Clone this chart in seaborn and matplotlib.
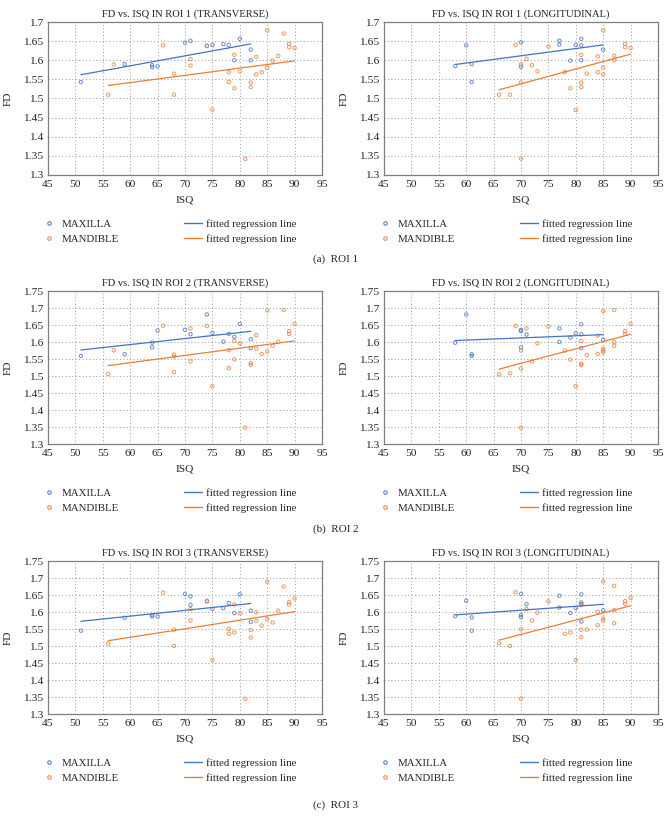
import matplotlib
matplotlib.use("Agg")
import matplotlib.pyplot as plt
import seaborn as sns
import numpy as np
import pandas as pd
from matplotlib.lines import Line2D

sns.set_style("white")
plt.rcParams['font.family'] = ['Liberation Serif', 'DejaVu Serif']

BLUE = "#4472C4"
ORANGE = "#ED7D31"

# ---------------- DATA ----------------
# ROI 1 transverse
r1t_max_isq = [51, 59, 64, 64, 65, 70, 71, 74, 75, 77, 78, 79, 80, 82, 82]
r1t_max_fd = [1.543, 1.590, 1.587, 1.582, 1.584, 1.646, 1.651, 1.638, 1.640, 1.642, 1.640, 1.600, 1.656, 1.628, 1.600]
r1t_man_isq = [56, 57, 66, 68, 68, 71, 71, 74, 75, 78, 78, 79, 79, 80, 81, 82, 82, 83, 83, 84, 85, 85, 86, 87, 88, 89, 89, 90]
r1t_man_fd = [1.510, 1.589, 1.639, 1.565, 1.510, 1.603, 1.586, 1.637, 1.471, 1.569, 1.543, 1.614, 1.527, 1.571, 1.342,
              1.542, 1.530, 1.609, 1.563, 1.569, 1.678, 1.581, 1.599, 1.611, 1.670, 1.643, 1.634, 1.632]

# ROI 1 longitudinal
r1l_max_isq = [58, 60, 61, 61, 70, 70, 77, 77, 79, 80, 81, 81, 81, 85]
r1l_max_fd = [1.585, 1.639, 1.590, 1.543, 1.647, 1.583, 1.651, 1.641, 1.599, 1.640, 1.656, 1.639, 1.600, 1.628]
r1l_man_isq = [66, 68, 69, 70, 70, 70, 71, 72, 73, 75, 78, 79, 80, 81, 81, 81, 82, 84, 84, 85, 85, 85, 87, 87, 89, 89, 90]
r1l_man_fd = [1.510, 1.510, 1.640, 1.589, 1.542, 1.343, 1.604, 1.587, 1.571, 1.636, 1.569, 1.527, 1.470, 1.614,
              1.542, 1.530, 1.565, 1.610, 1.569, 1.678, 1.581, 1.563, 1.612, 1.600, 1.643, 1.634, 1.632]

# ROI 2 transverse
r2t_max_isq = [51, 59, 64, 64, 65, 70, 71, 74, 75, 77, 78, 79, 80, 82, 82]
r2t_max_fd = [1.559, 1.564, 1.598, 1.584, 1.634, 1.636, 1.623, 1.681, 1.627, 1.601, 1.624, 1.615, 1.653, 1.608, 1.582]
r2t_man_isq = [56, 57, 66, 68, 68, 68, 71, 71, 74, 75, 78, 78, 79, 79, 80, 81, 82, 82, 83, 83, 84, 85, 85, 86, 87, 88, 89, 89, 90]
r2t_man_fd = [1.506, 1.576, 1.648, 1.563, 1.557, 1.511, 1.640, 1.543, 1.647, 1.470, 1.576, 1.523, 1.604, 1.549, 1.596,
              1.348, 1.538, 1.533, 1.620, 1.580, 1.565, 1.693, 1.572, 1.589, 1.601, 1.694, 1.632, 1.624, 1.653]

# ROI 2 longitudinal
r2l_max_isq = [58, 60, 61, 61, 70, 70, 70, 71, 77, 77, 79, 80, 81, 81, 81, 85]
r2l_max_fd = [1.598, 1.681, 1.564, 1.559, 1.636, 1.632, 1.584, 1.622, 1.640, 1.600, 1.613, 1.626, 1.652, 1.623, 1.582, 1.607]
r2l_man_isq = [66, 68, 69, 70, 70, 70, 71, 72, 73, 75, 78, 79, 80, 81, 81, 81, 82, 84, 84, 85, 85, 85, 85, 87, 87, 87, 89, 89, 90]
r2l_man_fd = [1.505, 1.508, 1.647, 1.575, 1.522, 1.348, 1.640, 1.543, 1.596, 1.646, 1.575, 1.548, 1.470, 1.603, 1.536,
              1.532, 1.562, 1.619, 1.565, 1.691, 1.580, 1.575, 1.570, 1.694, 1.600, 1.589, 1.632, 1.624, 1.653]

# ROI 3 transverse
r3t_max_isq = [51, 59, 64, 64, 65, 70, 71, 71, 74, 75, 77, 78, 79, 80, 82, 82]
r3t_max_fd = [1.545, 1.583, 1.591, 1.587, 1.587, 1.653, 1.646, 1.621, 1.631, 1.609, 1.611, 1.626, 1.597, 1.652, 1.604, 1.571]
r3t_man_isq = [56, 66, 68, 68, 71, 71, 74, 75, 78, 78, 79, 79, 80, 81, 82, 82, 83, 83, 84, 85, 85, 86, 87, 88, 89, 89, 90]
r3t_man_fd = [1.507, 1.657, 1.548, 1.500, 1.609, 1.575, 1.633, 1.459, 1.550, 1.536, 1.622, 1.540, 1.596, 1.345,
              1.547, 1.525, 1.599, 1.574, 1.560, 1.689, 1.579, 1.569, 1.604, 1.675, 1.629, 1.622, 1.640]

# ROI 3 longitudinal
r3l_max_isq = [58, 60, 61, 61, 70, 70, 70, 71, 77, 77, 79, 80, 81, 81, 81, 81, 85]
r3l_max_fd = [1.588, 1.633, 1.584, 1.545, 1.653, 1.591, 1.585, 1.623, 1.648, 1.613, 1.597, 1.611, 1.652, 1.628, 1.623, 1.572, 1.605]
r3l_man_isq = [66, 68, 69, 70, 70, 71, 72, 73, 75, 78, 79, 80, 81, 81, 81, 82, 84, 84, 85, 85, 85, 87, 87, 87, 89, 89, 90]
r3l_man_fd = [1.508, 1.500, 1.658, 1.549, 1.345, 1.609, 1.575, 1.598, 1.631, 1.536, 1.540, 1.459, 1.621, 1.548,
              1.526, 1.548, 1.601, 1.561, 1.690, 1.581, 1.575, 1.677, 1.605, 1.567, 1.632, 1.624, 1.642]

titles = ["FD vs. ISQ IN ROI 1 (TRANSVERSE)", "FD vs. ISQ IN ROI 1 (LONGITUDINAL)",
          "FD vs. ISQ IN ROI 2 (TRANSVERSE)", "FD vs. ISQ IN ROI 2 (LONGITUDINAL)",
          "FD vs. ISQ IN ROI 3 (TRANSVERSE)", "FD vs. ISQ IN ROI 3 (LONGITUDINAL)"]
captions = ["(a)  ROI 1", "(b)  ROI 2", "(c)  ROI 3"]
group_labels = ["MAXILLA", "MANDIBLE"]
line_label = "fitted regression line"
x_ticks = [45, 50, 55, 60, 65, 70, 75, 80, 85, 90, 95]
y_ticks_row1 = [1.3, 1.35, 1.4, 1.45, 1.5, 1.55, 1.6, 1.65, 1.7]
y_ticks_rows23 = [1.3, 1.35, 1.4, 1.45, 1.5, 1.55, 1.6, 1.65, 1.7, 1.75]

panels = [
    (r1t_max_isq, r1t_max_fd, r1t_man_isq, r1t_man_fd),
    (r1l_max_isq, r1l_max_fd, r1l_man_isq, r1l_man_fd),
    (r2t_max_isq, r2t_max_fd, r2t_man_isq, r2t_man_fd),
    (r2l_max_isq, r2l_max_fd, r2l_man_isq, r2l_man_fd),
    (r3t_max_isq, r3t_max_fd, r3t_man_isq, r3t_man_fd),
    (r3l_max_isq, r3l_max_fd, r3l_man_isq, r3l_man_fd),
]

# ---------------- FIGURE ----------------
W, H = 671, 821
fig = plt.figure(figsize=(W / 100, H / 100), dpi=100)

lefts = [48, 384]
tops = [22, 291, 561]
ax_w, ax_h = 274, 153
caption_y = [259, 529, 805]
TXT = "#222222"

def fmt(v):
    return ("%.2f" % v).rstrip("0").rstrip(".")

for i, (mx, my, dx, dy) in enumerate(panels):
    r, c = divmod(i, 2)
    ax = fig.add_axes([lefts[c] / W, 1 - (tops[r] + ax_h) / H, ax_w / W, ax_h / H])
    df_max = pd.DataFrame({"ISQ": mx, "FD": my})
    df_man = pd.DataFrame({"ISQ": dx, "FD": dy})
    for df, col in ((df_max, BLUE), (df_man, ORANGE)):
        sns.regplot(data=df, x="ISQ", y="FD", ax=ax, ci=None, truncate=True,
                    scatter_kws=dict(s=6, facecolors="none", edgecolors=col, linewidths=0.7, zorder=3),
                    line_kws=dict(color=col, lw=0.9, zorder=4), color=col)
    yt = y_ticks_row1 if r == 0 else y_ticks_rows23
    ax.set_xlim(45, 95)
    ax.set_ylim(yt[0], yt[-1])
    ax.set_xticks(x_ticks)
    ax.set_xticklabels([str(t) for t in x_ticks])
    ax.set_yticks(yt)
    ax.set_yticklabels([fmt(t) for t in yt])
    ax.tick_params(length=0, labelsize=8.2, pad=3.5, colors=TXT)
    ax.grid(True, linestyle=(0, (1, 2.5)), color="#999999", lw=0.7)
    ax.set_axisbelow(True)
    for sp in ax.spines.values():
        sp.set_color("#7f7f7f")
        sp.set_linewidth(0.9)
        sp.set_visible(True)
    ax.set_title(titles[i], fontsize=7.6, pad=4, color=TXT)
    ax.set_xlabel("ISQ", fontsize=8.2, labelpad=5, color=TXT)
    ax.set_ylabel("FD", fontsize=8.2, labelpad=7, color=TXT)

    handles = [
        Line2D([], [], ls="none", marker="o", ms=2.5, mfc="none", mec=BLUE, mew=0.7),
        Line2D([], [], ls="none", marker="o", ms=2.5, mfc="none", mec=ORANGE, mew=0.7),
        Line2D([], [], color=BLUE, lw=1.0),
        Line2D([], [], color=ORANGE, lw=1.0),
    ]
    labels = [group_labels[0], group_labels[1], line_label, line_label]
    ax.legend(handles, labels, ncol=2, loc="upper left",
              bbox_to_anchor=(-0.03, -0.29), frameon=False, fontsize=7.8,
              handlelength=1.65, handletextpad=0.4, columnspacing=6.0,
              labelspacing=0.45, borderpad=0, borderaxespad=0)

for r in range(3):
    fig.text(0.5, 1 - caption_y[r] / H, captions[r], ha="center", va="center", fontsize=8, color=TXT)

fig.savefig("out.png", dpi=100)
